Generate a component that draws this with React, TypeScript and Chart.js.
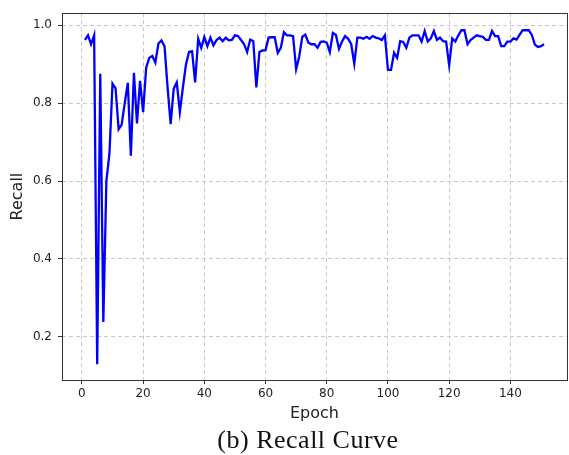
import React, { useEffect, useRef } from "react";
import { Chart, registerables } from "chart.js";
Chart.register(...registerables);

const recall: number[] = [
  0.962, 0.974, 0.951, 0.974, 0.13, 0.875, 0.238, 0.6, 0.67, 0.85,
  0.838, 0.733, 0.745, 0.8, 0.852, 0.665, 0.878, 0.748, 0.857, 0.777,
  0.891, 0.916, 0.921, 0.904, 0.953, 0.961, 0.946, 0.84, 0.746, 0.837,
  0.853, 0.777, 0.84, 0.899, 0.931, 0.933, 0.853, 0.965, 0.942, 0.97,
  0.946, 0.968, 0.948, 0.962, 0.968, 0.959, 0.968, 0.961, 0.962, 0.974,
  0.972, 0.962, 0.951, 0.931, 0.963, 0.959, 0.84, 0.931, 0.935, 0.936,
  0.968, 0.969, 0.969, 0.929, 0.942, 0.982, 0.974, 0.974, 0.972, 0.887,
  0.919, 0.97, 0.976, 0.955, 0.951, 0.951, 0.942, 0.957, 0.958, 0.955,
  0.931, 0.98, 0.975, 0.939, 0.958, 0.972, 0.965, 0.951, 0.901, 0.968,
  0.968, 0.965, 0.97, 0.965, 0.972, 0.968, 0.966, 0.962, 0.974, 0.885,
  0.885, 0.929, 0.916, 0.959, 0.957, 0.942, 0.968, 0.974, 0.974, 0.974,
  0.958, 0.985, 0.958, 0.966, 0.985, 0.962, 0.968, 0.959, 0.958, 0.897,
  0.966, 0.958, 0.974, 0.987, 0.987, 0.951, 0.962, 0.968, 0.974, 0.972,
  0.97, 0.962, 0.962, 0.985, 0.972, 0.972, 0.946, 0.946, 0.958, 0.958,
  0.966, 0.963, 0.975, 0.987, 0.987, 0.987, 0.975, 0.95, 0.944, 0.946,
  0.951,
];
const epochs: number[] = recall.map((_, i) => i + 1);
const xTicks: number[] = [0, 20, 40, 60, 80, 100, 120, 140];
const yTicks: number[] = [0.2, 0.4, 0.6, 0.8, 1.0];
const xTitle = "Epoch";
const yTitle = "Recall";
const caption = "(b) Recall Curve";

export default function App() {
  const ref = useRef<HTMLCanvasElement>(null);
  useEffect(() => {
    document.body.style.margin = "0";
    const framePlugin = {
      id: "frame",
      afterDraw(c: any) {
        const { ctx, chartArea: a } = c;
        ctx.save();
        ctx.strokeStyle = "#333333";
        ctx.lineWidth = 1;
        ctx.strokeRect(Math.round(a.left) + 0.5, Math.round(a.top) + 0.5, Math.round(a.right - a.left), Math.round(a.bottom - a.top));
        ctx.restore();
      },
    };
    const tickFont = { family: "DejaVu Sans", size: 12 };
    const chart = new Chart(ref.current!, {
      type: "line",
      data: {
        datasets: [
          {
            data: epochs.map((e, i) => ({ x: e, y: recall[i] })),
            borderColor: "#0000ff",
            borderWidth: 2.3,
            pointRadius: 0,
            tension: 0,
            fill: false,
          },
        ],
      },
      options: {
        responsive: false,
        animation: false,
        devicePixelRatio: 1,
        layout: { padding: { top: 12, right: 2, left: 4, bottom: 28 } },
        plugins: { legend: { display: false }, tooltip: { enabled: false } },
        scales: {
          x: {
            type: "linear",
            min: -6.5,
            max: 158.5,
            afterBuildTicks: (s: any) => {
              s.ticks = xTicks.map((v) => ({ value: v }));
            },
            afterFit: (s: any) => {
              s.height = 47;
            },
            ticks: { font: tickFont, color: "#222", padding: 3, maxRotation: 0 },
            grid: { color: "#c8c8c8", tickLength: 4, tickColor: "#333", tickBorderDash: [], drawTicks: true },
            border: { display: false, dash: [4, 3] },
            title: { display: true, text: xTitle, font: { family: "DejaVu Sans", size: 16 }, color: "#222", padding: { top: 4, bottom: 4 } },
          },
          y: {
            type: "linear",
            min: 0.0893,
            max: 1.0307,
            afterBuildTicks: (s: any) => {
              s.ticks = yTicks.map((v) => ({ value: v }));
            },
            afterFit: (s: any) => {
              s.width = 58;
            },
            ticks: { font: tickFont, color: "#222", padding: 6, callback: (v: any) => Number(v).toFixed(1) },
            grid: { color: "#c8c8c8", tickLength: 4, tickColor: "#333", tickBorderDash: [], drawTicks: true },
            border: { display: false, dash: [4, 3] },
            title: { display: true, text: yTitle, font: { family: "DejaVu Sans", size: 16 }, color: "#222", padding: { top: 4, bottom: 4 } },
          },
        },
      },
      plugins: [framePlugin],
    });
    return () => chart.destroy();
  }, []);
  return (
    <div style={{ position: "relative", width: 569, height: 455, background: "#fff" }}>
      <canvas ref={ref} width={569} height={455} style={{ position: "absolute", left: 0, top: 0 }} />
      <div
        style={{
          position: "absolute",
          left: 0,
          width: 616,
          top: 425,
          textAlign: "center",
          fontFamily: "'Liberation Serif', serif",
          fontSize: 26,
          letterSpacing: "0.5px",
          color: "#111",
          whiteSpace: "nowrap",
          lineHeight: "30px",
        }}
      >
        {caption}
      </div>
    </div>
  );
}
